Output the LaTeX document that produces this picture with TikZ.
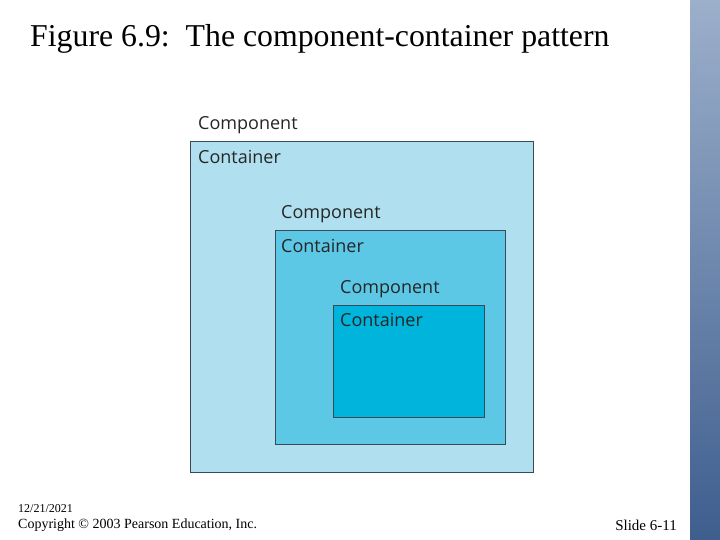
\documentclass[tikz,border=0pt]{standalone}
\usepackage{fontspec}
\setmainfont{Liberation Serif}
\newfontfamily\lbl{Open Sans}
\definecolor{c1}{HTML}{B0E0F0}
\definecolor{c2}{HTML}{5CC8E6}
\definecolor{c3}{HTML}{00B4DC}
\definecolor{edge}{HTML}{3A4A55}
\definecolor{s1}{HTML}{5A7AA8}
\definecolor{s2}{HTML}{3E5E8E}
\begin{document}
\begin{tikzpicture}[x=1pt,y=-1pt,
  box/.style={draw=edge,line width=1pt},
  lab/.style={anchor=west,inner sep=0pt,font=\lbl\fontsize{18}{20}\selectfont,text=black!85}]
\useasboundingbox (0,0) rectangle (720,540);
\fill[white] (0,0) rectangle (720,540);
\shade[top color=s1!60!white,bottom color=s2] (690,0) rectangle (720,540);
\node[anchor=west,inner sep=0pt,font=\fontsize{31.8}{34}\selectfont] (title) at (30,39) {Figure 6.9:\ \ The component-container pattern};
\draw[box,fill=c1] (190,142) rectangle (533,472);
\draw[box,fill=c2] (275,231) rectangle (505,444);
\draw[box,fill=c3] (333,305) rectangle (484,417);
\node[lab] (p1) at (198,125) {Component};
\node[lab] (n1) at (198,157) {Container};
\node[lab] (p2) at (281,214) {Component};
\node[lab] (n2) at (281,246) {Container};
\node[lab] (p3) at (340,289) {Component};
\node[lab] (n3) at (340,320) {Container};
\node[anchor=west,inner sep=0pt,font=\fontsize{12}{13}\selectfont] (d) at (18,509) {12/21/2021};
\node[anchor=west,inner sep=0pt,font=\fontsize{14}{16}\selectfont] (c) at (18,525) {Copyright \textcopyright\ 2003 Pearson Education, Inc.};
\node[anchor=east,inner sep=0pt,font=\fontsize{15}{16}\selectfont] (s) at (677,525) {Slide 6-11};
\end{tikzpicture}
\end{document}
